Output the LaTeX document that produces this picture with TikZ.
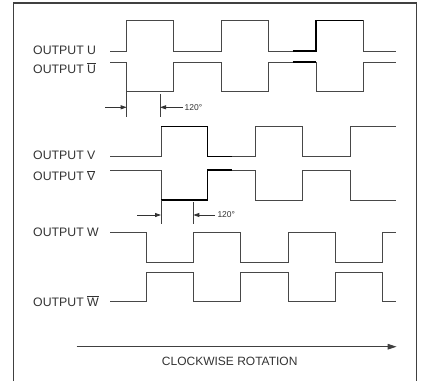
\documentclass[tikz,border=0pt]{standalone}
\usepackage{fontspec}
\setmainfont{Liberation Sans}
\usetikzlibrary{arrows.meta}
\begin{document}
\begin{tikzpicture}[x=1pt,y=-1pt,
  wave/.style={draw=black!72,line width=0.95pt,line join=miter},
  hot/.style={draw=black,line width=1.1pt},
  frame/.style={draw=black!75,line width=1.3pt},
  tickline/.style={draw=black!75,line width=0.9pt},
  dimarrow/.style={draw=black!80,line width=0.8pt,-{Triangle[length=6pt,width=4pt]}},
  siglabel/.style={anchor=base west,inner sep=0pt,font=\fontsize{12.3}{14}\selectfont,text=black!80},
  anglabel/.style={anchor=west,inner sep=0pt,font=\fontsize{8.5}{10}\selectfont,text=black!80}]
\useasboundingbox (0,0) rectangle (422,381);
% frame (open at the bottom)
\draw[frame] (13.3,381) -- (13.3,3) -- (416.3,3) -- (416.3,381);
% labels
\node[siglabel] (lu)  at (33,54.3)  {OUTPUT U};
\node[siglabel] (lub) at (33,73.3)  {OUTPUT $\overline{\mbox{U}}$};
\node[siglabel] (lv)  at (33,159)   {OUTPUT V};
\node[siglabel] (lvb) at (33,180.7) {OUTPUT $\overline{\mbox{V}}$};
\node[siglabel] (lw)  at (33,236.7) {OUTPUT W};
\node[siglabel] (lwb) at (33,306)   {OUTPUT $\overline{\mbox{W}}$};
% U
\draw[wave] (110,51) -- (126.7,51) -- (126.7,20.7) -- (173.7,20.7) -- (173.7,51) -- (221.7,51) -- (221.7,20.7) -- (268.7,20.7) -- (268.7,51) -- (316,51) -- (316,20.7) -- (363.3,20.7) -- (363.3,51) -- (395.7,51);
\draw[hot] (292.7,51) -- (316,51) -- (316,20.7) -- (363.3,20.7);
% U bar
\draw[wave] (110,62) -- (126.7,62) -- (126.7,91) -- (173.7,91) -- (173.7,62) -- (221.7,62) -- (221.7,91) -- (268.7,91) -- (268.7,62) -- (316,62) -- (316,91) -- (363.3,91) -- (363.3,62) -- (395.7,62);
\draw[hot] (292.7,62) -- (316,62);
% first 120 marker
\coordinate (m1a) at (126.7,117);
\coordinate (m1b) at (160,94);
\coordinate (m1c) at (160,117);
\draw[tickline] (126.7,91) -- (m1a);
\draw[tickline] (m1b) -- (m1c);
\coordinate (a1s) at (105,107.3);
\coordinate (a1e) at (126.7,107.3);
\coordinate (a2s) at (183,107.3);
\coordinate (a2e) at (160,107.3);
\draw[dimarrow] (a1s) -- (a1e);
\draw[dimarrow] (a2s) -- (a2e);
\node[anglabel] (ang1) at (184.5,107.3) {120°};
% V
\draw[wave] (110,156.7) -- (161,156.7) -- (161,126.7) -- (207.7,126.7) -- (207.7,156.7) -- (255.3,156.7) -- (255.3,126.7) -- (302.3,126.7) -- (302.3,156.7) -- (350,156.7) -- (350,126.7) -- (395.7,126.7);
\draw[hot] (161,126.7) -- (207.7,126.7) -- (207.7,156.7) -- (231.7,156.7);
% V bar
\draw[wave] (110,170) -- (161,170) -- (161,200) -- (207.7,200) -- (207.7,170) -- (255.3,170) -- (255.3,200) -- (302.3,200) -- (302.3,170) -- (350,170) -- (350,200) -- (395.7,200);
\draw[hot] (161,200) -- (207.7,200) -- (207.7,170) -- (231.7,170);
% second 120 marker
\coordinate (m2a) at (161,224);
\coordinate (m2b) at (193.3,202);
\coordinate (m2c) at (193.3,224);
\draw[tickline] (161,200) -- (m2a);
\draw[tickline] (m2b) -- (m2c);
\coordinate (b1s) at (137.3,215);
\coordinate (b1e) at (161,215);
\coordinate (b2s) at (215,215);
\coordinate (b2e) at (193.3,215);
\draw[dimarrow] (b1s) -- (b1e);
\draw[dimarrow] (b2s) -- (b2e);
\node[anglabel] (ang2) at (217.3,215) {120°};
% W
\draw[wave] (110,232.3) -- (146,232.3) -- (146,262.3) -- (193.3,262.3) -- (193.3,232.3) -- (240.7,232.3) -- (240.7,262.3) -- (288.3,262.3) -- (288.3,232.3) -- (335,232.3) -- (335,262.3) -- (382.7,262.3) -- (382.7,232.3) -- (395.7,232.3);
% W bar
\draw[wave] (110,301.7) -- (146,301.7) -- (146,272.7) -- (193.3,272.7) -- (193.3,301.7) -- (240.7,301.7) -- (240.7,272.7) -- (288.3,272.7) -- (288.3,301.7) -- (335,301.7) -- (335,272.7) -- (382.7,272.7) -- (382.7,301.7) -- (395.7,301.7);
% rotation arrow
\coordinate (rs) at (76.7,346.7);
\coordinate (re) at (396.7,346.7);
\draw[draw=black!75,line width=1pt,-{Triangle[length=9pt,width=5.5pt]}] (rs) -- (re);
\node[anchor=base,inner sep=0pt,font=\fontsize{12}{14}\selectfont,text=black!80] (rot) at (229.7,365.5) {CLOCKWISE ROTATION};
\end{tikzpicture}
\end{document}
